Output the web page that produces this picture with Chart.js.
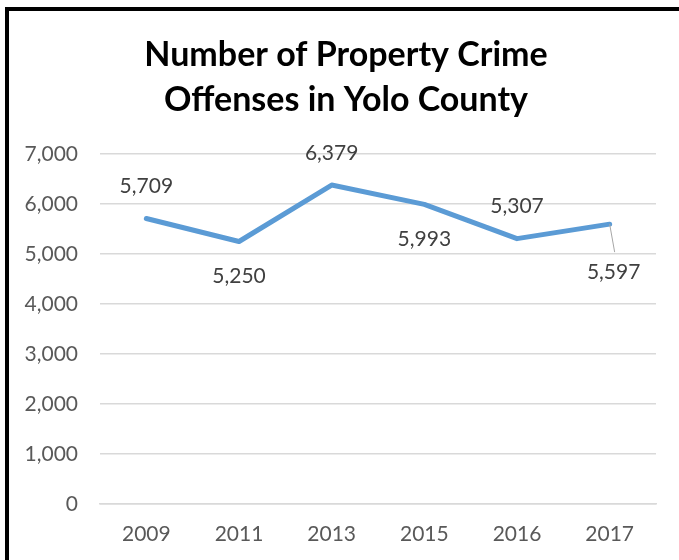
<!DOCTYPE html>
<html>
<head>
<meta charset="utf-8">
<script src="https://cdn.jsdelivr.net/npm/chart.js@4/dist/chart.umd.min.js"></script>
<style>
  html, body { margin: 0; padding: 0; background: #fff; }
  #wrap { position: relative; width: 679px; height: 560px; overflow: hidden; }
  #frame { position: absolute; left: 5px; top: 7px; width: 700px; height: 600px;
           border-left: 4px solid #000; border-top: 4px solid #000; box-sizing: border-box; }
  canvas { position: absolute; left: 0; top: 0; }
</style>
</head>
<body>
<div id="wrap">
  <div id="frame"></div>
  <canvas id="graph" width="679" height="560"></canvas>
</div>
<script>
// data
const years = ['2009', '2011', '2013', '2015', '2016', '2017'];
const offenses = [5709, 5250, 6379, 5993, 5307, 5597];
const yTicks = [0, 1000, 2000, 3000, 4000, 5000, 6000, 7000];
const titleLines = ['Number of Property Crime', 'Offenses in Yolo County'];
// where each value label sits: 'above' / 'below' / 'leader'
const labelSide = ['above', 'below', 'above', 'below', 'above', 'leader'];

const FONT = 'Lato, "Open Sans", sans-serif';

// title, centred a bit right of the canvas middle like the original
const titlePlugin = {
  id: 'bigTitle',
  afterDraw(chart) {
    const ctx = chart.ctx;
    ctx.save();
    ctx.font = 'bold 34px ' + FONT;
    ctx.fillStyle = '#000';
    ctx.textAlign = 'center';
    ctx.textBaseline = 'middle';
    titleLines.forEach((t, i) => ctx.fillText(t, 346, 55 + i * 45));
    ctx.restore();
  }
};

// value labels like the spreadsheet ones
const valueLabels = {
  id: 'valueLabels',
  afterDatasetsDraw(chart) {
    const ctx = chart.ctx;
    const meta = chart.getDatasetMeta(0);
    ctx.save();
    ctx.font = '21px ' + FONT;
    ctx.fillStyle = '#404040';
    ctx.textAlign = 'center';
    ctx.textBaseline = 'middle';
    meta.data.forEach((pt, i) => {
      const txt = offenses[i].toLocaleString('en-US');
      let x = pt.x, y = pt.y;
      if (labelSide[i] === 'above') y -= 32;
      else if (labelSide[i] === 'below') y += 35;
      else {
        ctx.strokeStyle = '#a6a6a6';
        ctx.lineWidth = 1;
        ctx.beginPath();
        ctx.moveTo(pt.x, pt.y);
        ctx.lineTo(pt.x + 5, pt.y + 28);
        ctx.stroke();
        x += 4; y += 48;
      }
      ctx.fillText(txt, x, y);
    });
    ctx.restore();
  }
};

const canvas = document.getElementById('graph');
new Chart(canvas, {
  type: 'line',
  data: {
    labels: years,
    datasets: [{
      data: offenses,
      borderColor: '#5b9bd5',
      borderWidth: 5,
      pointRadius: 0,
      tension: 0,
      borderJoinStyle: 'round',
      borderCapStyle: 'round'
    }]
  },
  options: {
    responsive: false,
    animation: false,
    layout: { padding: { left: 0, right: 23, top: 154, bottom: 0 } },
    plugins: {
      legend: { display: false },
      tooltip: { enabled: false },
      title: { display: false }
    },
    scales: {
      x: {
        offset: true,
        grid: { display: false, drawTicks: false },
        border: { display: true, color: '#d9d9d9', width: 1.5 },
        ticks: { color: '#595959', font: { family: FONT, size: 21 }, padding: 18 },
        afterFit(s) { s.height = 56; }
      },
      y: {
        min: 0, max: 7000,
        afterBuildTicks(s) { s.ticks = yTicks.map(v => ({ value: v })); },
        grid: { color: '#d9d9d9', lineWidth: 1.5, drawTicks: false },
        border: { display: false },
        ticks: {
          color: '#595959', font: { family: FONT, size: 21 }, padding: 22,
          callback: v => v.toLocaleString('en-US')
        },
        afterFit(s) { s.width = 100; }
      }
    }
  },
  plugins: [valueLabels, titlePlugin]
});
</script>
</body>
</html>
